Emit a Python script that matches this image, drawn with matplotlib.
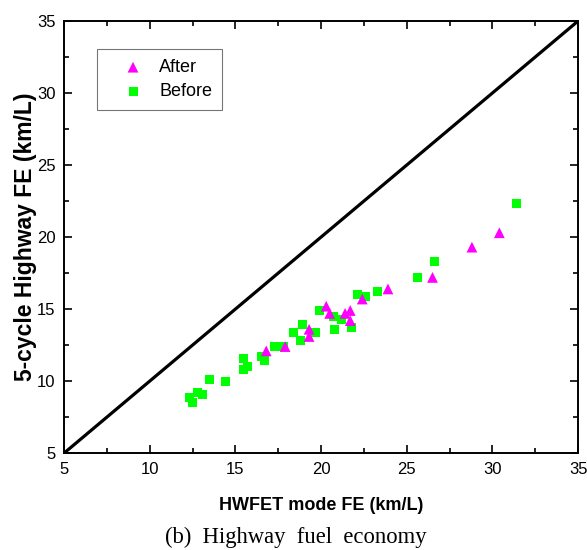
import numpy as np
import matplotlib
matplotlib.use('Agg')
import matplotlib.pyplot as plt

plt.rcParams['font.family'] = 'Liberation Sans'

# HWFET mode FE vs 5-cycle highway FE (km/L)
before_x = [12.3, 12.5, 12.8, 13.1, 13.5, 14.4, 15.5, 15.5, 15.7, 16.5, 16.7, 17.3, 17.8, 18.4,
            18.9, 18.8, 19.7, 19.9, 20.7, 20.8, 21.2, 21.8, 22.1, 22.6, 23.3, 25.6, 26.6, 31.4]
before_y = [8.9, 8.5, 9.2, 9.1, 10.1, 10.0, 11.6, 10.8, 11.0, 11.7, 11.4, 12.4, 12.4, 13.4,
            13.9, 12.8, 13.4, 14.9, 14.5, 13.6, 14.3, 13.7, 16.0, 15.9, 16.2, 17.2, 18.3, 22.3]
after_x = [16.8, 17.9, 19.3, 19.3, 20.3, 20.5, 21.4, 21.7, 21.7, 22.4, 23.9, 26.5, 28.8, 30.4]
after_y = [12.1, 12.4, 13.6, 13.1, 15.2, 14.7, 14.7, 14.9, 14.2, 15.7, 16.4, 17.2, 19.3, 20.3]

lim = [5, 35]
major = np.arange(5, 36, 5)
minor = np.arange(7.5, 35, 5)

fig = plt.figure(figsize=(5.87, 5.5), dpi=100)
ax = fig.add_axes([0.109, 0.176, 0.876, 0.786])

ax.plot(lim, lim, color='black', lw=2.3, zorder=1)
ax.scatter(after_x, after_y, marker='^', s=60, color='#ff00ff', edgecolors='none', label='After', zorder=3)
ax.scatter(before_x, before_y, marker='s', s=42, color='#00ff00', edgecolors='none', label='Before', zorder=2)

ax.set_xlim(lim)
ax.set_ylim(lim)
ax.set_xticks(major)
ax.set_yticks(major)
ax.set_xticks(minor, minor=True)
ax.set_yticks(minor, minor=True)
ax.tick_params(which='both', direction='in', top=True, right=True, labelsize=12, width=1.2)
ax.tick_params(which='major', length=6, pad=6)
ax.tick_params(which='minor', length=3.5)
for sp in ax.spines.values():
    sp.set_linewidth(1.4)

ax.set_xlabel('HWFET mode FE (km/L)', fontsize=13, fontweight='bold', labelpad=15)
ax.set_ylabel('5-cycle Highway FE (km/L)', fontsize=16.5, fontweight='bold', labelpad=0)

leg = ax.legend(loc='upper left', bbox_to_anchor=(0.064, 0.935), fontsize=13, fancybox=False,
                framealpha=1, edgecolor='#777777', borderpad=0.55, handletextpad=0.0,
                borderaxespad=0, scatterpoints=1, handlelength=2.9, labelspacing=0.4)
leg.get_frame().set_linewidth(0.8)

fig.text(0.504, 0.023, '(b)  Highway  fuel  economy', ha='center', va='center',
         fontsize=16.3, family='Liberation Serif')

fig.savefig('out.png', dpi=100)
